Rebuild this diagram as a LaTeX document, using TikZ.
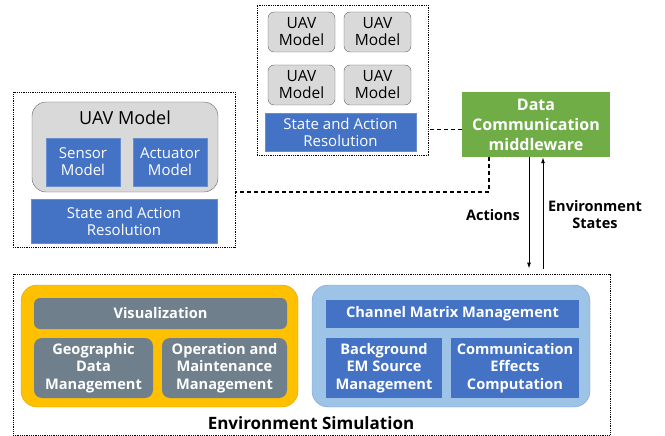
\documentclass[tikz,border=0pt]{standalone}
\usepackage{fontspec}
\setmainfont{Open Sans}
\usetikzlibrary{arrows.meta}

\definecolor{modelblue}{HTML}{4472C4}
\definecolor{paleblue}{HTML}{9DC3E6}
\definecolor{uavgray}{HTML}{D9D9D9}
\definecolor{slate}{HTML}{6F7F8C}
\definecolor{amber}{HTML}{FFC000}
\definecolor{mwgreen}{HTML}{70AD47}

\begin{document}
\begin{tikzpicture}[x=1pt, y=-1pt,
  every node/.style={inner sep=0pt, align=center},
  dotbox/.style={draw=black, densely dotted, line width=0.8pt},
  uavbox/.style={draw=gray!75!black, fill=uavgray, rounded corners=6pt,
    font=\fontsize{15.5}{17}\selectfont},
  bluebox/.style={fill=modelblue, draw=modelblue!80!white, text=white,
    font=\fontsize{15}{17}\selectfont},
  simbox/.style={text=white, font=\bfseries\fontsize{14.6}{17.5}\selectfont},
  flowlbl/.style={font=\bfseries\fontsize{14.5}{17}\selectfont},
  linkline/.style={dashed, dash pattern=on 4pt off 3pt, line width=1.3pt}]
  \useasboundingbox (0,0) rectangle (665,436);

  % Enjambre de UAVs (arriba)
  \node[dotbox, minimum width=171pt, minimum height=150pt] (swarm) at (342.5,80) {};
  \node[uavbox, minimum width=67pt, minimum height=40pt] (uavA) at (301.5,32) {UAV\\Model};
  \node[uavbox, minimum width=67pt, minimum height=40pt] (uavB) at (377.5,32) {UAV\\Model};
  \node[uavbox, minimum width=67pt, minimum height=40pt] (uavC) at (301.5,85) {UAV\\Model};
  \node[uavbox, minimum width=67pt, minimum height=40pt] (uavD) at (377.5,85) {UAV\\Model};
  \node[bluebox, minimum width=151pt, minimum height=38pt] (swarmres) at (340.5,132)
    {State and Action\\Resolution};

  % UAV individual (izquierda)
  \node[dotbox, minimum width=222pt, minimum height=155pt] (single) at (124,169.5) {};
  \node[fill=uavgray, draw=gray!75!black, rounded corners=14pt,
    minimum width=186pt, minimum height=90pt] (uavbig) at (125,147) {};
  \node[font=\fontsize{18}{20}\selectfont] (uavlbl) at (125,118) {UAV Model};
  \node[bluebox, minimum width=74pt, minimum height=48pt] (sensor) at (83,162) {Sensor\\Model};
  \node[bluebox, minimum width=74pt, minimum height=48pt] (actuator) at (170,162) {Actuator\\Model};
  \node[bluebox, minimum width=186pt, minimum height=44pt] (singleres) at (124,221)
    {State and Action\\Resolution};

  % Middleware
  \node[fill=mwgreen, text=white, minimum width=148pt, minimum height=65pt,
    font=\bfseries\fontsize{16}{20}\selectfont] (mw) at (536,124.5)
    {Data\\Communication\\middleware};

  % Simulacao do ambiente (embaixo)
  \node[dotbox, minimum width=597pt, minimum height=161pt] (envsim) at (311.5,354.5) {};
  \node[fill=amber, draw=amber!85!black, rounded corners=16pt,
    minimum width=277pt, minimum height=122pt] (gis) at (159.5,346) {};
  \node[simbox, fill=slate, rounded corners=6pt, minimum width=253pt, minimum height=31pt]
    (vis) at (160.5,313.5) {Visualization};
  \node[simbox, fill=slate, rounded corners=8pt, minimum width=119pt, minimum height=60pt]
    (geo) at (93.5,368) {Geographic\\Data\\Management};
  \node[simbox, fill=slate, rounded corners=8pt, minimum width=125pt, minimum height=60pt]
    (om) at (224.5,368) {Operation and\\Maintenance\\Management};
  \node[fill=paleblue, draw=modelblue!70!white, rounded corners=16pt,
    minimum width=278pt, minimum height=122pt] (em) at (451,346) {};
  \node[simbox, fill=modelblue, minimum width=253pt, minimum height=28pt]
    (channel) at (452.5,314) {Channel Matrix Management};
  \node[simbox, fill=modelblue, minimum width=116pt, minimum height=60pt]
    (bgsrc) at (384,368) {Background\\EM Source\\Management};
  \node[simbox, fill=modelblue, minimum width=128pt, minimum height=60pt]
    (effects) at (515,368) {Communication\\Effects\\Computation};
  \node[font=\bfseries\fontsize{17}{20}\selectfont] (envlbl) at (311,423) {Environment Simulation};

  % Ligacoes tracejadas ao middleware
  \draw[linkline] ([yshift=-5pt]mw.west) -- ([yshift=-5pt]mw.west -| swarm.east);
  \draw[linkline] ([xshift=-47pt]mw.south) |- ([yshift=-22.5pt]single.east);

  % Acoes e estados
  \draw[-{Latex[length=6pt,width=4pt]}, line width=1pt]
    ([xshift=-7pt]mw.south) -- ([xshift=-7pt, yshift=5pt]mw.south |- envsim.north);
  \draw[-{Latex[length=6pt,width=4pt]}, line width=1pt]
    ([xshift=7pt, yshift=5pt]mw.south |- envsim.north) -- ([xshift=7pt]mw.south);
  \node[flowlbl] (actlbl) at (493,215) {Actions};
  \node[flowlbl] (statelbl) at (595,215) {Environment\\States};
\end{tikzpicture}
\end{document}
